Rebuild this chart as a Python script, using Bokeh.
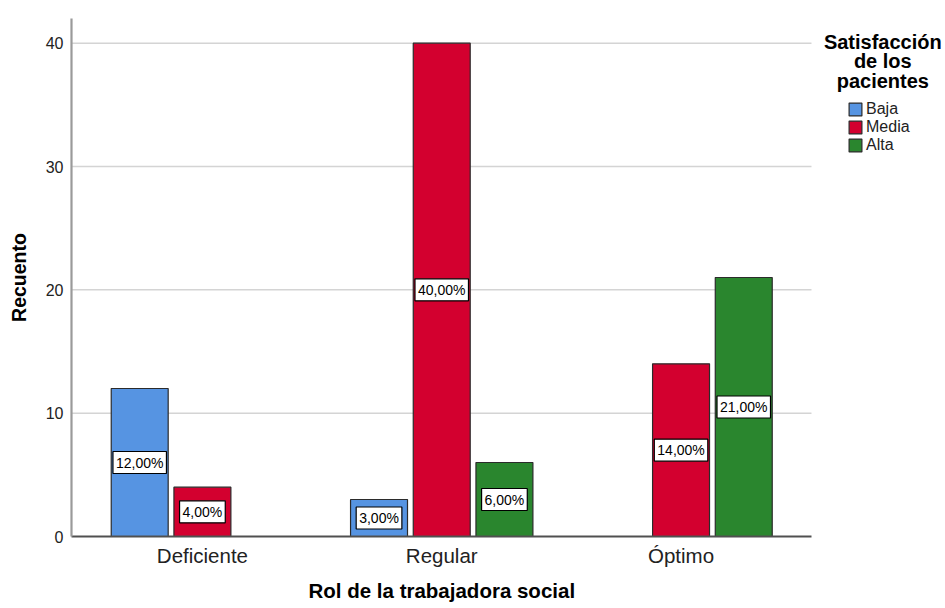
from bokeh.plotting import figure
from bokeh.models import (ColumnDataSource, Range1d, FixedTicker, Label,
                          Legend, LegendItem, Title)
from bokeh.core.properties import value
from bokeh.embed import file_html
from bokeh.resources import INLINE

# Counts per role category and patient-satisfaction level
categories = ["Deficiente", "Regular", "Óptimo"]
levels = ["Baja", "Media", "Alta"]
baja = [12, 3, 0]
media = [4, 40, 14]
alta = [0, 6, 21]
colors = ["#5694e2", "#d3002f", "#2a862e"]
y_ticks = [0, 10, 20, 30, 40]

series = [baja, media, alta]
total = sum(sum(s) for s in series)
offsets = [-0.262, 0.0, 0.262]
bar_w = 0.238
FONT = "Liberation Sans"

# extent of the category axis; the frame continues to the right to hold the legend
X_LO, X_HI = -0.547, 2.545

p = figure(width=945, height=608, output_backend="svg", toolbar_location=None,
           x_range=Range1d(X_LO, 3.105), y_range=Range1d(0, 42),
           min_border_left=71, min_border_right=0, min_border_top=18,
           min_border_bottom=71)
p.outline_line_color = None
p.background_fill_color = "white"
p.border_fill_color = "white"

# horizontal grid lines limited to the axis extent
p.segment(x0=X_LO, x1=X_HI, y0=y_ticks[1:], y1=y_ticks[1:],
          line_color="#d4d4d4", line_width=1.5)

renderers = []
for vals, off, col, lev in zip(series, offsets, colors, levels):
    xs, tops, texts, mids = [], [], [], []
    for i, v in enumerate(vals):
        if v > 0:
            xs.append(i + off)
            tops.append(v)
            mids.append(v / 2)
            texts.append(f"{v / total * 100:.2f}%".replace(".", ","))
    src = ColumnDataSource(dict(x=xs, top=tops, mid=mids, text=texts))
    r = p.vbar(x="x", top="top", width=bar_w, source=src, fill_color=col,
               line_color="#2b2b2b", line_width=1.2)
    renderers.append((lev, r))
    # percentage tag in a white box at the middle of each bar
    p.text(x="x", y="mid", text="text", source=src,
           text_align="center", text_baseline="middle",
           text_font=value(FONT), text_font_size="14px", text_color="black",
           background_fill_color="white", border_line_color="black",
           border_line_width=1.2, padding=3)

# Axes
p.xaxis.bounds = (X_LO, X_HI)
p.xaxis.ticker = FixedTicker(ticks=[0, 1, 2])
p.xaxis.major_label_overrides = {i: c for i, c in enumerate(categories)}
p.xaxis.major_label_text_font = FONT
p.xaxis.major_label_text_font_size = "20.5px"
p.xaxis.major_label_text_color = "#222222"
p.xaxis.major_label_standoff = 7
p.xaxis.major_tick_out = 0
p.xaxis.major_tick_in = 0
p.xaxis.major_tick_line_color = None
p.xaxis.minor_tick_line_color = None
p.xaxis.axis_line_color = "#505050"
p.xaxis.axis_line_width = 1.8

# x-axis title placed under the category axis rather than the whole frame
p.add_layout(Title(text="Rol de la trabajadora social", align="left", offset=237,
                   text_font=FONT, text_font_size="20.5px", text_font_style="bold",
                   text_color="black", standoff=14), "below")

p.yaxis.ticker = FixedTicker(ticks=y_ticks)
p.yaxis.major_label_text_font = FONT
p.yaxis.major_label_text_font_size = "16px"
p.yaxis.major_label_text_color = "#222222"
p.yaxis.major_label_standoff = 8
p.yaxis.major_tick_out = 0
p.yaxis.major_tick_in = 0
p.yaxis.major_tick_line_color = None
p.yaxis.minor_tick_line_color = None
p.yaxis.axis_line_color = "#9a9a9a"
p.yaxis.axis_line_width = 2.2
p.yaxis.axis_label = "Recuento"
p.yaxis.axis_label_text_font = FONT
p.yaxis.axis_label_text_font_size = "19.5px"
p.yaxis.axis_label_text_font_style = "bold"
p.yaxis.axis_label_text_color = "black"
p.yaxis.axis_label_standoff = 13

p.xgrid.grid_line_color = None
p.ygrid.grid_line_color = None

# Legend with a centred, three-line title
for i, line in enumerate(["Satisfacción", "de los", "pacientes"]):
    p.add_layout(Label(x=2.843, y=40.1 - i * 1.58, text=line, text_align="center",
                       text_baseline="middle", text_font=FONT,
                       text_font_size="20px", text_font_style="bold",
                       text_color="black"))

legend = Legend(items=[LegendItem(label=lev, renderers=[r]) for lev, r in renderers],
                location=(776, 382), orientation="vertical",
                glyph_width=16, glyph_height=16, label_height=16,
                label_standoff=3, spacing=0, padding=0, margin=0,
                label_text_font=FONT, label_text_font_size="16px",
                label_text_color="#222222", border_line_color=None,
                background_fill_alpha=0)
p.add_layout(legend, "center")

open("out.html", "w").write(file_html(p, INLINE))
